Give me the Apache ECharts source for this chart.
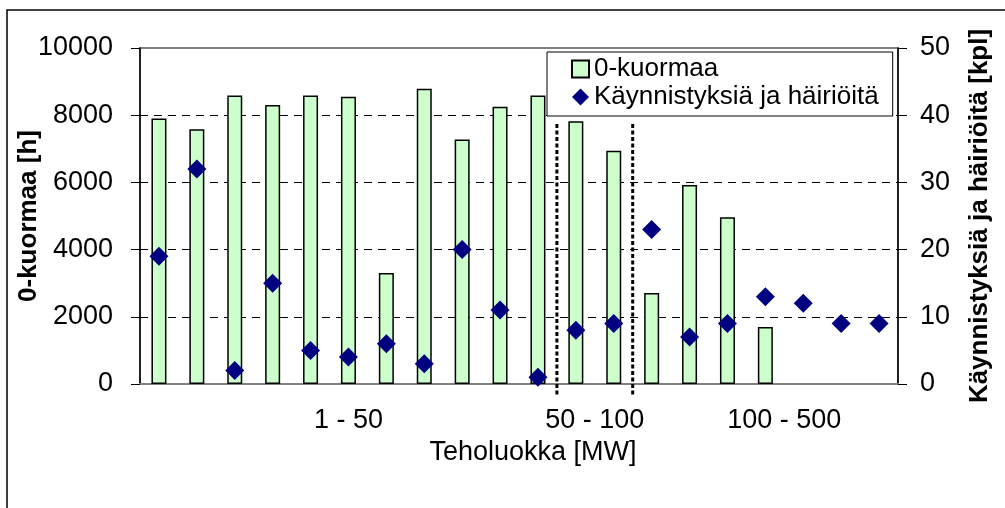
<!DOCTYPE html>
<html>
<head>
<meta charset="utf-8">
<script src="https://cdn.jsdelivr.net/npm/echarts@6/dist/echarts.min.js"></script>
<style>
html,body{margin:0;padding:0;background:#fff;}
#chart{width:1005px;height:508px;}
</style>
</head>
<body>
<div id="chart"></div>
<script>
// ---- data ----
const units = ['1','2','3','4','5','6','7','8','9','10','11','12','13','14','15','16','17','18','19','20'];
const zeroLoadHours = [7900, 7580, 8590, 8300, 8590, 8550, 3300, 8790, 7280, 8250, 8590, 7820, 6940, 2710, 5920, 4960, 1700, null, null, null];
const startsAndTrips = [19, 32, 2, 15, 5, 4, 6, 3, 20, 11, 1, 8, 9, 23, 7, 9, 13, 12, 9, 9];
const groupLabels = ['1 - 50', '50 - 100', '100 - 500'];
const groupLabelSlots = [11, 24, 34];      // positions in half-category steps
const dividerSlots = [22, 26];             // group boundaries in half-category steps
const dividerRange = [7740, -390];         // vertical extent (left axis units)
const leftTicks = [0, 2000, 4000, 6000, 8000, 10000];
const rightTicks = [0, 10, 20, 30, 40, 50];

const seriesNames = ['0-kuormaa', 'Käynnistyksiä ja häiriöitä'];
const xTitle = 'Teholuokka [MW]';
const yLeftTitle = '0-kuormaa [h]';
const yRightTitle = 'Käynnistyksiä ja häiriöitä [kpl]';

// half-step axis used for group labels and dividers
const halfSlots = [];
for (let i = 0; i <= units.length * 2; i++) {
  const k = groupLabelSlots.indexOf(i);
  halfSlots.push(k >= 0 ? groupLabels[k] : String(i));
}

const FONT = 'Arial, "Liberation Sans", sans-serif';
const chart = echarts.init(document.getElementById('chart'));

const dividerSeries = dividerSlots.map(s => ({
  type: 'line',
  xAxisIndex: 1,
  yAxisIndex: 0,
  data: [[halfSlots[s], dividerRange[0]], [halfSlots[s], dividerRange[1]]],
  symbol: 'none',
  clip: false,
  silent: true,
  z: 1,
  lineStyle: { color: '#000', width: 3, type: [4, 2.5] }
}));

chart.setOption({
  backgroundColor: '#fff',
  animation: false,
  textStyle: { fontFamily: FONT },
  grid: {
    left: 140, right: 107, top: 48, bottom: 124,
    outerBoundsMode: 'none',
    containLabel: false,
    show: true, borderColor: '#808080', borderWidth: 2, backgroundColor: 'transparent'
  },
  legend: {
    data: [
      { name: seriesNames[0], icon: 'rect' },
      { name: seriesNames[1], icon: 'diamond' }
    ],
    orient: 'vertical',
    left: 547, top: 52,
    itemWidth: 17, itemHeight: 17,
    itemGap: 2,
    padding: [4, 14, 6, 24],
    borderColor: '#000', borderWidth: 1,
    backgroundColor: '#fff',
    textStyle: { fontFamily: FONT, fontSize: 26, color: '#000' }
  },
  xAxis: [
    {
      type: 'category',
      data: units,
      boundaryGap: true,
      axisLine: { show: true, lineStyle: { color: '#808080', width: 2 } },
      axisTick: { show: false },
      axisLabel: { show: false },
      splitLine: { show: false }
    },
    {
      type: 'category',
      data: halfSlots,
      boundaryGap: false,
      position: 'bottom',
      axisLine: { show: false },
      axisTick: { show: false },
      axisLabel: {
        interval: 0,
        margin: 23,
        fontSize: 27,
        color: '#000',
        fontFamily: FONT,
        formatter: v => (groupLabels.indexOf(v) >= 0 ? v : '')
      },
      name: xTitle,
      nameLocation: 'middle',
      nameGap: 55,
      nameMoveOverlap: false,
      nameTextStyle: { fontSize: 27, color: '#000', fontFamily: FONT, padding: [0, 0, 0, 28] }
    }
  ],
  yAxis: [
    {
      type: 'value',
      min: leftTicks[0], max: leftTicks[leftTicks.length - 1], interval: leftTicks[1] - leftTicks[0],
      axisLine: { show: true, lineStyle: { color: '#000', width: 1.5 } },
      axisTick: { show: true, length: 9, lineStyle: { color: '#000' } },
      axisLabel: { fontSize: 27, color: '#000', margin: 27, fontFamily: FONT, formatter: v => String(v) },
      splitLine: { show: true, showMinLine: false, showMaxLine: false, lineStyle: { color: '#000', type: [8, 6], width: 1 } },
      name: yLeftTitle,
      nameLocation: 'middle',
      nameRotate: 90,
      nameGap: 98,
      nameMoveOverlap: false,
      nameTextStyle: { fontSize: 26, fontWeight: 'bold', color: '#000', fontFamily: FONT }
    },
    {
      type: 'value',
      position: 'right',
      min: rightTicks[0], max: rightTicks[rightTicks.length - 1], interval: rightTicks[1] - rightTicks[0],
      axisLine: { show: true, lineStyle: { color: '#000', width: 1.5 } },
      axisTick: { show: true, length: 9, lineStyle: { color: '#000' } },
      axisLabel: { fontSize: 27, color: '#000', margin: 22, fontFamily: FONT, formatter: v => String(v) },
      splitLine: { show: false },
      name: yRightTitle,
      nameLocation: 'middle',
      nameRotate: 90,
      nameGap: 69,
      nameMoveOverlap: false,
      nameTextStyle: { fontSize: 26, fontWeight: 'bold', color: '#000', fontFamily: FONT }
    }
  ],
  graphic: [
    {
      type: 'rect',
      shape: { x: 7, y: 10, width: 1010, height: 520 },
      style: { fill: 'none', stroke: '#000', lineWidth: 1.5 },
      silent: true,
      z: -10
    }
  ],
  series: [
    {
      name: seriesNames[0],
      type: 'bar',
      xAxisIndex: 0,
      yAxisIndex: 0,
      data: zeroLoadHours,
      barWidth: 15,
      itemStyle: { color: '#CCFFCC', borderColor: '#000', borderWidth: 1.5 },
      z: 2
    },
    {
      name: seriesNames[1],
      type: 'scatter',
      xAxisIndex: 0,
      yAxisIndex: 1,
      data: startsAndTrips,
      symbol: 'diamond',
      symbolSize: 19,
      itemStyle: { color: '#000080', opacity: 1 },
      z: 5
    },
    ...dividerSeries
  ]
});
</script>
</body>
</html>
